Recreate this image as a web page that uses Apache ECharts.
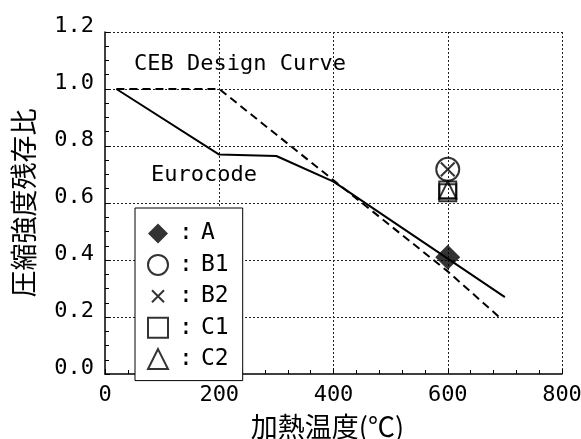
<!DOCTYPE html>
<html>
<head>
<meta charset="utf-8">
<script src="https://cdn.jsdelivr.net/npm/echarts@6/dist/echarts.min.js"></script>
<style>
  html, body { margin: 0; padding: 0; background: #fff; }
  #chart { width: 581px; height: 439px; }
</style>
</head>
<body>
<div id="chart"></div>
<script>
// Residual compressive strength ratio vs heating temperature
var xTicks = [0, 200, 400, 600, 800];
var yTicks = [0.0, 0.2, 0.4, 0.6, 0.8, 1.0, 1.2];

// Design curves: [temperature (°C), strength ratio]
var eurocodeCurve = [[20, 1.0], [200, 0.77], [300, 0.765], [400, 0.675], [700, 0.27]];
var cebCurve = [[20, 1.0], [200, 1.0], [600, 0.36], [690, 0.2]];

// Test specimens
var specA  = [[600, 0.41]];
var specB1 = [[600, 0.718]];
var specB2 = [[600, 0.718]];
var specC1 = [[600, 0.646], [600, 0.636]];
var specC2 = [[600, 0.646]];

var latinFont = '"DejaVu Sans Mono", "Liberation Mono", monospace';
var cjkFont = '"Noto Sans CJK JP", "Noto Sans CJK SC", sans-serif';
var crossIcon = 'path://M0,0M20,20M4,4L16,16M16,4L4,16';

var hollow = { color: 'rgba(0,0,0,0)', borderColor: '#000', borderWidth: 2 };

var chart = echarts.init(document.getElementById('chart'), null, { renderer: 'canvas' });

chart.setOption({
  animation: false,
  backgroundColor: '#fff',
  grid: { left: 105, right: 19, top: 32, bottom: 65, containLabel: false, outerBoundsMode: 'none' },
  xAxis: {
    type: 'value',
    min: xTicks[0], max: xTicks[xTicks.length - 1], interval: 200,
    name: '加熱温度(℃)',
    nameLocation: 'middle',
    nameGap: 39,
    nameTextStyle: { fontFamily: cjkFont, fontSize: 27, color: '#000', padding: [0, 12, 0, 0] },
    axisLine: { show: true, lineStyle: { color: '#000', width: 1.5 } },
    axisTick: { show: true, inside: true, length: 5, lineStyle: { color: '#000' } },
    minorTick: { show: true, splitNumber: 5, length: 4, lineStyle: { color: '#000' } },
    axisLabel: { fontFamily: latinFont, fontSize: 22, color: '#000', margin: 10 },
    splitLine: { show: true, showMinLine: false, showMaxLine: true, lineStyle: { color: '#222', width: 1, type: [2, 2] } }
  },
  yAxis: {
    type: 'value',
    min: yTicks[0], max: yTicks[yTicks.length - 1], interval: 0.2,
    name: '圧縮強度残存比',
    nameLocation: 'middle',
    nameGap: 68,
    nameRotate: 90,
    nameTextStyle: { fontFamily: cjkFont, fontSize: 27, color: '#000' },
    axisLine: { show: true, lineStyle: { color: '#000', width: 1.5 } },
    axisTick: { show: true, inside: true, length: 5, lineStyle: { color: '#000' } },
    minorTick: { show: true, splitNumber: 4, length: 4, lineStyle: { color: '#000' } },
    axisLabel: {
      color: '#000', margin: 11,
      verticalAlign: 'middle',
      formatter: function (v) { return '{v|' + v.toFixed(1) + '}'; },
      rich: {
        v: { fontFamily: latinFont, fontSize: 22, color: '#000', lineHeight: 22, padding: [0, 0, 11, 0] }
      }
    },
    splitLine: { show: true, showMinLine: false, showMaxLine: true, lineStyle: { color: '#222', width: 1, type: [2, 2] } }
  },
  legend: {
    orient: 'vertical',
    left: 135, top: 208,
    padding: [14, 14, 10, 12],
    itemWidth: 20, itemHeight: 20, itemGap: 8.4,
    backgroundColor: '#fff',
    borderColor: '#000', borderWidth: 1, borderRadius: 0,
    selectedMode: false,
    formatter: function (name) { return '{c|:}{t|' + name + '}'; },
    textStyle: {
      fontFamily: latinFont, fontSize: 23, color: '#000', lineHeight: 20,
      rich: {
        c: { fontFamily: latinFont, fontSize: 23, width: 26, align: 'center', lineHeight: 20 },
        t: { fontFamily: latinFont, fontSize: 23, padding: [0, 0, 0, 2], lineHeight: 20 }
      }
    },
    data: [
      { name: 'A', icon: 'diamond', itemStyle: { color: '#000', borderWidth: 0 } },
      { name: 'B1', icon: 'circle', itemStyle: hollow },
      { name: 'B2', icon: crossIcon, itemStyle: hollow },
      { name: 'C1', icon: 'rect', itemStyle: hollow },
      { name: 'C2', icon: 'triangle', itemStyle: hollow }
    ]
  },
  graphic: [
    { type: 'text', left: 134, top: 53, z: 100,
      style: { text: 'CEB Design Curve', font: '22px ' + latinFont, fill: '#000' } },
    { type: 'text', left: 151, top: 164, z: 100,
      style: { text: 'Eurocode', font: '22px ' + latinFont, fill: '#000' } }
  ],
  series: [
    {
      name: 'Eurocode', type: 'line', data: eurocodeCurve, symbol: 'none',
      lineStyle: { color: '#000', width: 2 }, z: 3
    },
    {
      name: 'CEB Design Curve', type: 'line', data: cebCurve, symbol: 'none',
      lineStyle: { color: '#000', width: 2, type: [8, 5] }, z: 3
    },
    { name: 'C1', type: 'scatter', data: specC1, symbol: 'rect', symbolSize: 17, itemStyle: hollow, z: 5 },
    { name: 'C2', type: 'scatter', data: specC2, symbol: 'triangle', symbolSize: 17, itemStyle: hollow, z: 5 },
    { name: 'B1', type: 'scatter', data: specB1, symbol: 'circle', symbolSize: 23, itemStyle: hollow, z: 5 },
    { name: 'B2', type: 'scatter', data: specB2, symbol: crossIcon, symbolSize: 23, itemStyle: hollow, z: 5 },
    { name: 'A', type: 'scatter', data: specA, symbol: 'diamond', symbolSize: 25, itemStyle: { color: '#000' }, z: 6 }
  ]
});
</script>
</body>
</html>
